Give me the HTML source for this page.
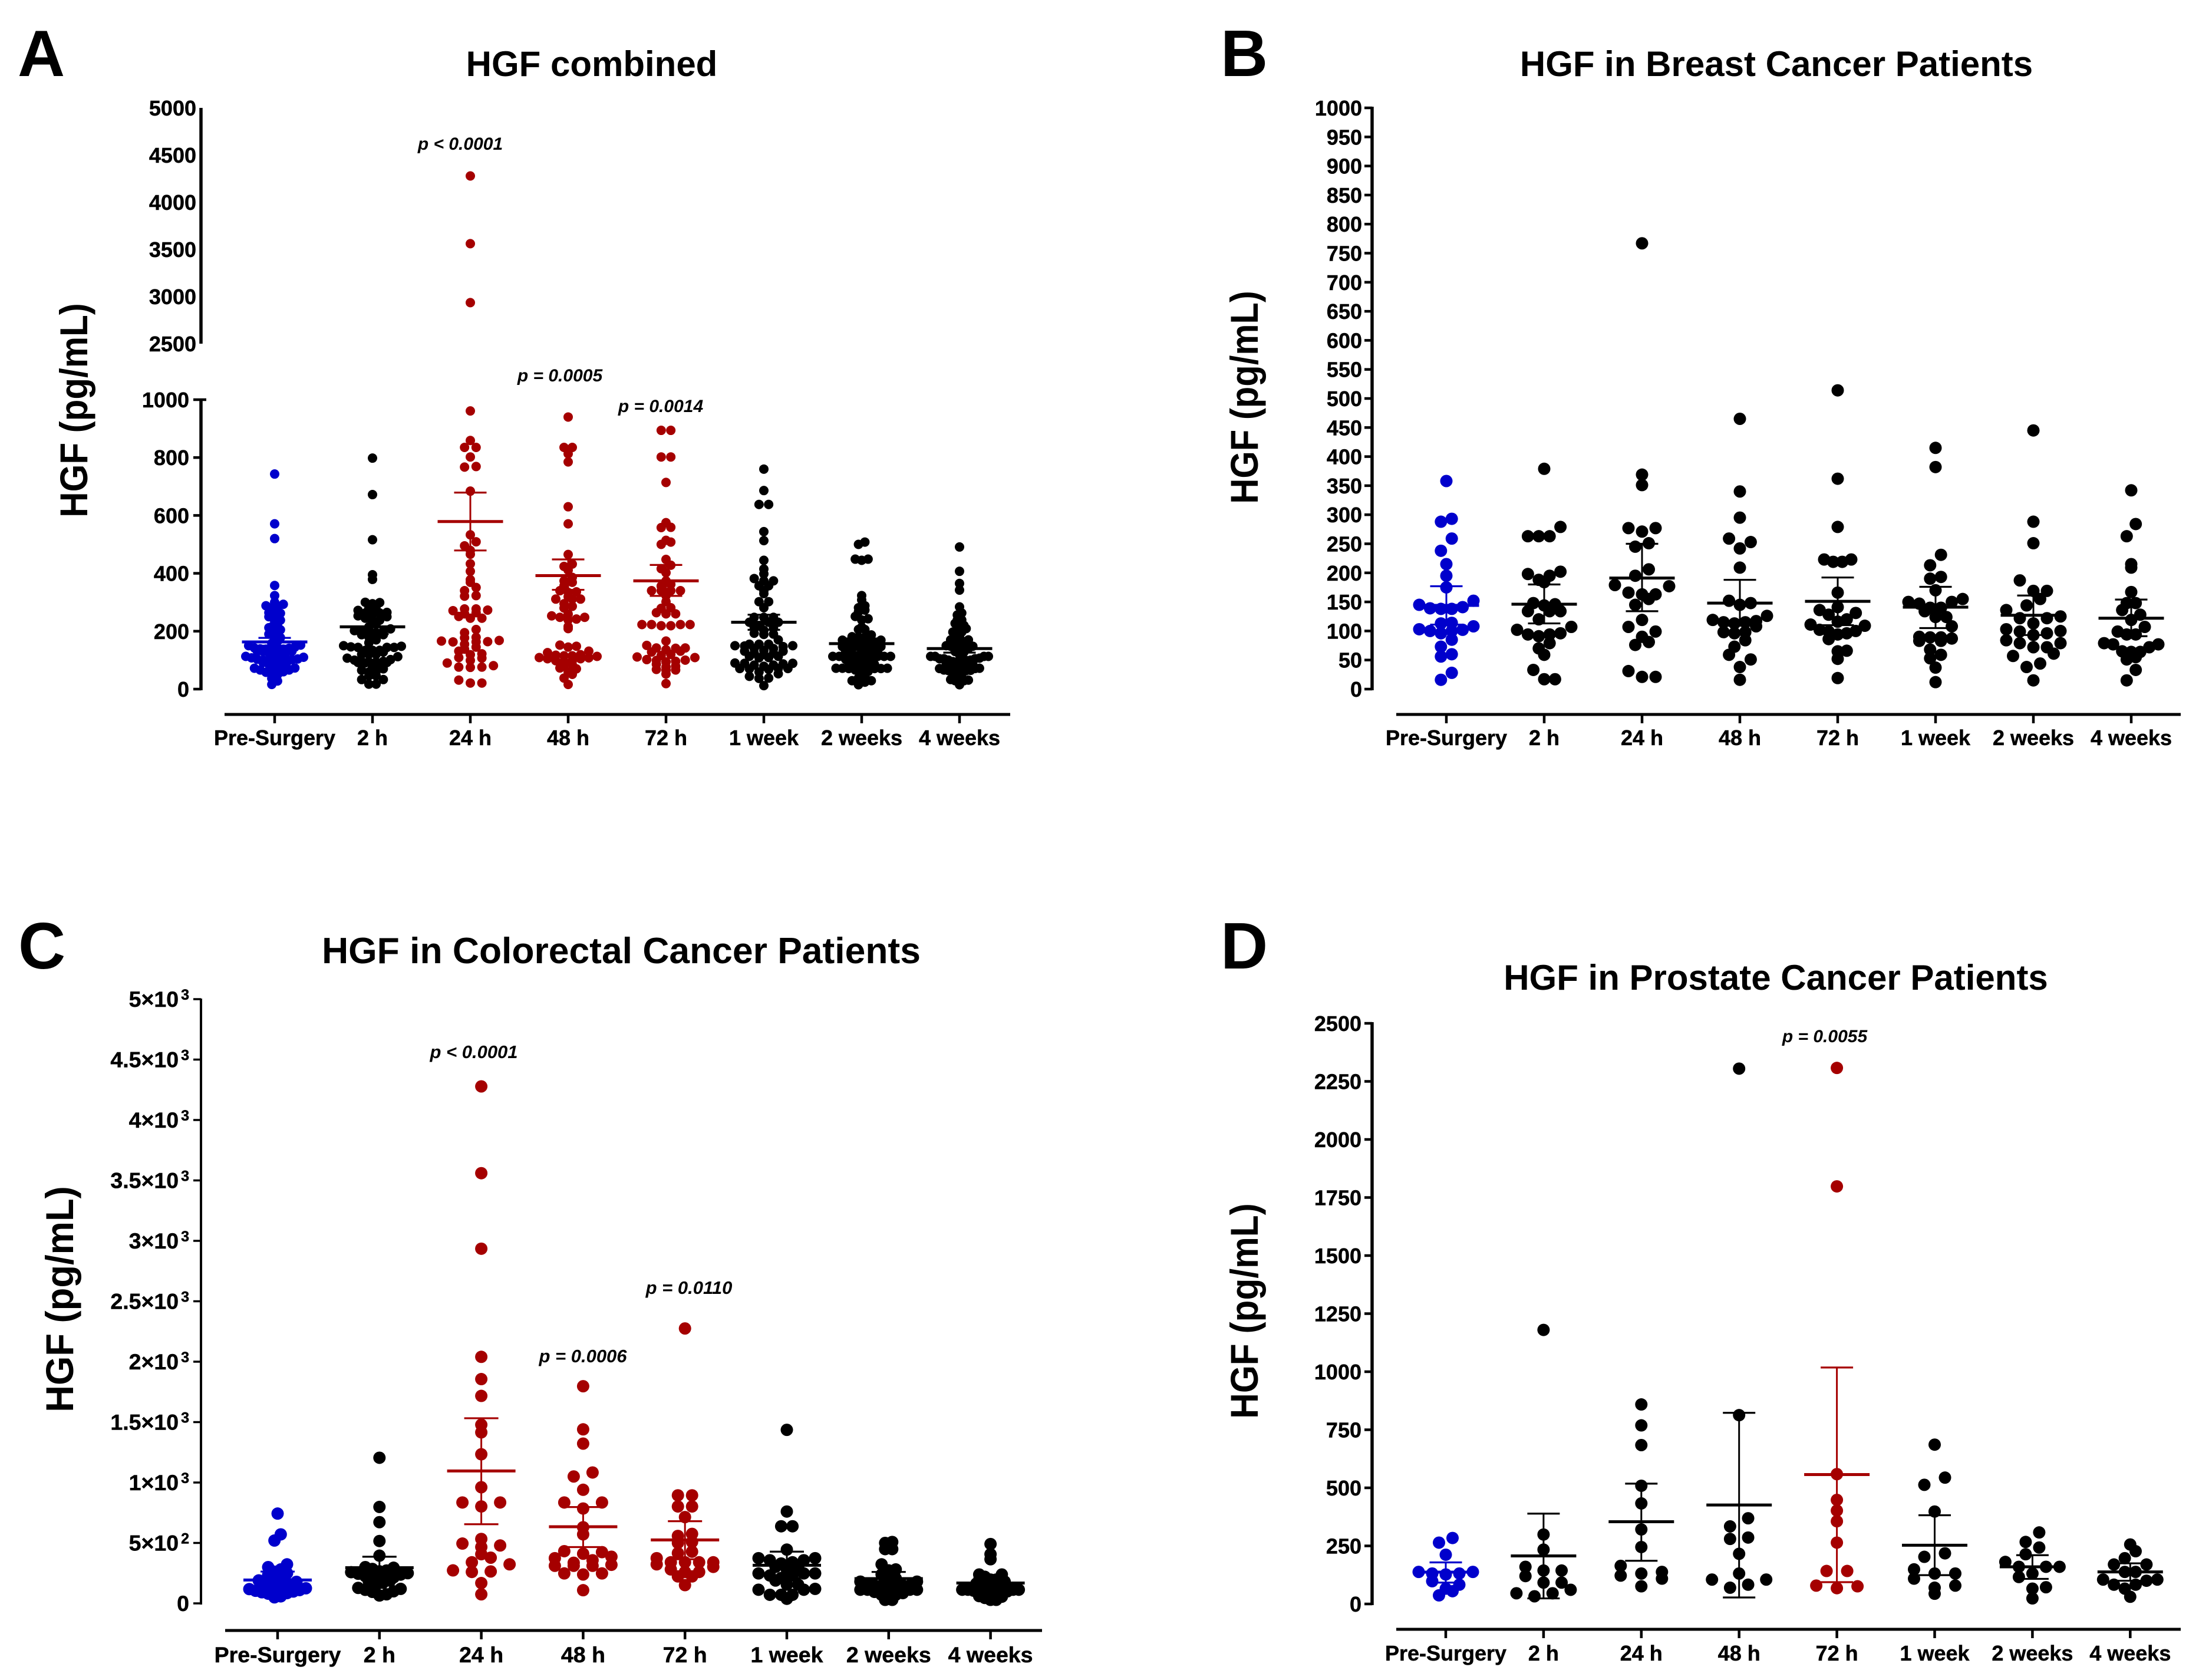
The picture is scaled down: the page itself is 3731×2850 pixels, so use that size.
<!DOCTYPE html>
<html lang="en">
<head>
<meta charset="utf-8">
<title>HGF charts</title>
<style>
html,body{margin:0;padding:0;background:#fff;}
svg{display:block;}
text{font-family:"Liberation Sans",Arial,sans-serif;font-weight:bold;fill:#000;}
.letter{font-size:111px;}
.title{font-size:60px;text-anchor:middle;}
.ytitle{font-size:66px;text-anchor:middle;}
.ptext{font-size:30px;font-style:italic;text-anchor:middle;}
.tick{font-size:36px;stroke:#000;stroke-width:.5px;}
</style>
</head>
<body>
<svg id="figure" xmlns="http://www.w3.org/2000/svg" width="3731" height="2850" viewBox="0 0 3731 2850">
  <rect x="0" y="0" width="3731" height="2850" fill="#fff"/>

  <text class="letter" x="30" y="129">A</text>
  <text class="letter" x="2071" y="129">B</text>
  <text class="letter" x="31" y="1643">C</text>
  <text class="letter" x="2071" y="1643">D</text>

  <text class="title" x="1004" y="129">HGF combined</text>
  <text class="title" x="3014" y="129">HGF in Breast Cancer Patients</text>
  <text class="title" style="font-size:62.4px" x="1054" y="1634">HGF in Colorectal Cancer Patients</text>
  <text class="title" x="3013" y="1679">HGF in Prostate Cancer Patients</text>

  <text class="ytitle" transform="translate(148,696) rotate(-90) scale(.91,1)">HGF (pg/mL)</text>
  <text class="ytitle" transform="translate(2134,674) rotate(-90) scale(.905,1)">HGF (pg/mL)</text>
  <text class="ytitle" transform="translate(124,2204) rotate(-90) scale(.96,1)">HGF (pg/mL)</text>
  <text class="ytitle" transform="translate(2134,2224) rotate(-90) scale(.915,1)">HGF (pg/mL)</text>

  <text class="ptext" x="781" y="254">p &lt; 0.0001</text>
  <text class="ptext" x="950" y="647">p = 0.0005</text>
  <text class="ptext" x="1121" y="699">p = 0.0014</text>
  <text class="ptext" style="font-size:31px" x="804" y="1795">p &lt; 0.0001</text>
  <text class="ptext" style="font-size:31px" x="989" y="2311">p = 0.0006</text>
  <text class="ptext" style="font-size:31px" x="1169" y="2195">p = 0.0110</text>
  <text class="ptext" x="3096" y="1768">p = 0.0055</text>
</svg>

<script>
// ---------- chart data ----------
const categories = ["Pre-Surgery", "2 h", "24 h", "48 h", "72 h", "1 week", "2 weeks", "4 weeks"];

// Panel A: HGF combined (values in the axis gap 1000-2500 are not drawn)
const combinedPre = [358,293,288,259,238,215,195,175,152,145,141,139,138,138,114,113,108,103,102,100,100,96,85,73,60,56,28,16,743,571,520,323,300,281,262,250,235,218,205,190,178,165,158,150,142,130,125,118,110,104,98,92,85,80,72,66,58,50,284,264,212,138,138,131,131,127,98,83,66,55,37];
const combined2h = [379,279,263,263,253,202,198,195,188,184,148,146,144,134,134,134,120,107,102,96,94,94,91,79,70,59,33,17,17,798,672,516,395,300,295,285,272,265,258,250,245,238,225,215,208,200,195,188,180,170,150,128,120,112,100,95,75,65,299,234,160,144,144,120,92,92,61,46,46,33];
const combined24h = [767,369,351,277,277,271,251,245,206,195,179,177,166,163,163,155,145,119,107,99,90,81,76,31,21,21,4278,3560,2935,961,835,835,802,533,495,479,466,407,378,340,323,273,264,260,168,75,859,769,684,509,433,321,245,164,138,131,122,109,76];
const combined48h = [465,340,295,259,253,242,209,152,148,145,126,119,117,115,115,113,108,98,98,96,84,73,59,51,38,16,940,835,835,785,630,571,432,424,411,386,374,357,336,319,311,311,311,248,248,239,109,813,369,334,286,280,216,131,105,105,83,70];
const combined72h = [514,362,279,223,223,219,219,166,141,136,131,128,120,116,111,109,102,100,99,96,94,86,66,65,52,19,894,894,802,802,714,575,558,508,500,428,416,374,340,340,340,340,323,302,281,260,260,223,223,151,559,448,402,356,264,142,142,79,76,68];
const combined1w = [415,382,231,213,193,190,170,155,150,150,147,140,140,134,124,124,108,90,87,89,89,83,83,68,59,53,37,12,760,638,638,445,374,374,357,357,340,330,302,302,281,248,248,248,231,231,210,189,155,155,120,113,113,71,71,71,38,686,544,513,398,218,203,149,131,131,109,79,70,44];
const combined2w = [445,288,251,187,169,169,155,144,136,125,122,122,113,103,96,99,100,93,84,79,79,72,72,61,57,44,38,15,508,500,449,449,323,281,273,239,206,206,180,180,160,147,147,147,147,147,130,113,113,113,113,95,85,71,71,71,29,29,308,267,243,214,181,160,160,160,131,116,72,66,24];
const combined4w = [342,284,263,215,209,167,148,148,136,128,119,107,99,94,94,79,77,77,72,65,64,64,55,51,33,15,491,407,365,239,239,220,197,197,180,164,164,150,140,130,113,113,113,113,105,100,95,90,85,71,71,60,55,45,29,29,256,227,197,170,170,138,138,105,105,100,83,83,66,31];
const combinedMean = [163,215,579,392,374,231,157,140];
const combinedHigh = [177,243,679,448,429,257,175,154];
const combinedLow = [150,190,479,343,322,205,140,126];

// Panel B: breast cancer
const breastPre = [358,293,288,259,238,215,195,175,152,145,141,139,138,138,114,113,108,103,102,100,100,96,85,73,60,56,28,16];
const breast2h = [379,279,263,263,263,202,198,195,188,184,148,146,144,134,134,134,120,107,102,96,94,94,91,79,70,59,33,17,17];
const breast24h = [767,369,351,277,277,271,251,245,206,195,179,177,166,163,163,155,145,119,107,99,90,81,76,31,21,21];
const breast48h = [465,340,295,259,253,242,209,152,148,145,126,119,117,115,115,113,108,98,98,96,84,73,59,51,38,16];
const breast72h = [514,362,279,223,223,219,219,166,141,136,131,128,120,116,111,109,102,100,99,96,94,86,66,65,52,19];
const breast1w = [415,382,231,213,193,190,170,155,150,150,147,140,140,134,124,124,108,90,87,89,89,83,83,68,59,53,37,12];
const breast2w = [445,288,251,187,169,169,155,144,136,125,122,122,113,103,96,99,100,93,84,79,79,72,72,61,57,44,38,15];
const breast4w = [342,284,263,215,209,167,148,148,136,128,119,107,99,94,94,79,77,77,72,65,64,64,55,51,33,15];
const breastMean = [144,146,191,148,151,141,127,122];
const breastHigh = [177,180,250,188,192,176,161,154];
const breastLow = [111,113,134,109,110,105,93,91];

// Panel C: colorectal cancer
const colorectalPre = [743,571,520,323,300,281,262,250,235,218,205,190,178,165,158,150,142,130,125,118,110,104,98,92,85,80,72,66,58,50];
const colorectal2h = [1205,798,672,516,395,300,295,285,272,265,258,250,245,238,225,215,208,200,195,188,180,170,150,128,120,112,100,95,75,65];
const colorectal24h = [4278,3560,2935,2040,1856,1717,1478,1415,1234,961,835,835,802,533,495,479,466,407,378,340,323,273,264,260,168,75];
const colorectal48h = [1797,1440,1322,1083,1050,940,835,835,785,630,571,432,424,411,386,374,357,336,319,311,311,311,248,248,239,109];
const colorectal72h = [2275,894,894,802,802,714,575,558,508,500,428,416,374,340,340,340,340,323,302,281,260,260,223,223,151];
const colorectal1w = [1436,760,638,638,445,374,374,357,357,340,330,302,302,281,248,248,248,231,231,210,189,155,155,120,113,113,71,71,71,38];
const colorectal2w = [508,500,449,449,323,281,273,239,206,206,180,180,160,147,147,147,147,147,130,113,113,113,113,95,85,71,71,71,29,29];
const colorectal4w = [491,407,365,239,239,220,197,197,180,164,164,150,140,130,113,113,113,113,105,100,95,90,85,71,71,60,55,45,29,29];
const colorectalMean = [193,295,1096,634,525,315,205,168];
const colorectalHigh = [263,386,1532,797,680,428,260,210];
const colorectalLow = [120,205,655,466,365,210,150,125];

// Panel D: prostate cancer
const prostatePre = [284,264,212,138,138,131,131,127,98,83,66,55,37];
const prostate2h = [1180,299,234,160,144,144,120,92,92,61,46,46,33];
const prostate24h = [859,769,684,509,433,321,245,164,138,131,122,109,76];
const prostate48h = [2305,813,369,334,286,280,216,131,105,105,83,70];
const prostate72h = [2308,1798,559,448,402,356,264,142,142,79,76,68];
const prostate1w = [686,544,513,398,218,203,149,131,131,109,79,70,44];
const prostate2w = [308,267,243,214,181,160,160,160,131,116,72,66,24];
const prostate4w = [256,227,197,170,170,138,138,105,105,100,83,83,66,31];
const prostateMean = [137,207,354,426,557,253,160,138];
const prostateHigh = [179,389,518,823,1018,382,210,175];
const prostateLow = [92,24,186,28,94,124,108,100];

// Tick values
const ticksALower = [0,200,400,600,800,1000];
const ticksAUpper = [2500,3000,3500,4000,4500,5000];
const ticksB = [0,50,100,150,200,250,300,350,400,450,500,550,600,650,700,750,800,850,900,950,1000];
const ticksC = [0,500,1000,1500,2000,2500,3000,3500,4000,4500,5000];
const ticksD = [0,250,500,750,1000,1250,1500,1750,2000,2250,2500];

// ---------- drawing ----------
const BLUE = "#0000cc", RED = "#a50000", BLACK = "#000000";
const svg = document.getElementById("figure");
const NS = "http://www.w3.org/2000/svg";

function shape(tag, attrs) {
  const el = document.createElementNS(NS, tag);
  for (const k in attrs) el.setAttribute(k, attrs[k]);
  svg.appendChild(el);
  return el;
}
function line(x1, y1, x2, y2, color, w) {
  return shape("line", { x1: x1, y1: y1, x2: x2, y2: y2, stroke: color, "stroke-width": w });
}

// Prism style binned swarm: each row is centred, row slots share a group wide step
function swarmOffsets(values, binSize, binShift, spread, maxStep) {
  const rows = {};
  values.forEach(function (v, i) {
    const k = Math.floor((v + binShift) / binSize);
    (rows[k] = rows[k] || []).push(i);
  });
  let widest = 1;
  for (const k in rows) widest = Math.max(widest, rows[k].length);
  const step = widest > 1 ? Math.min(spread / (widest - 1), maxStep) : 0;
  const out = new Array(values.length).fill(0);
  for (const k in rows) {
    const idx = rows[k].sort(function (a, b) { return values[a] - values[b]; });
    const n = idx.length;
    idx.forEach(function (id, j) {
      let slot;
      if (n % 2) slot = j === 0 ? 0 : (j % 2 ? 1 : -1) * Math.ceil(j / 2);
      else slot = (j % 2 ? 1 : -1) * (Math.floor(j / 2) + 0.5);
      out[id] = slot * step;
    });
  }
  return out;
}

function drawPanel(p) {
  // axes
  p.yAxisSegments.forEach(function (seg, i) {
    const a = line(p.axisX, seg[0], p.axisX, seg[1], BLACK, p.axisWidth);
    
    
  });
  const xa = line(p.xAxisStart, p.xAxisY, p.xAxisEnd, p.xAxisY, BLACK, 5);
  
  

  // y ticks and labels
  p.ticks.forEach(function (t) {
    const y = p.y(t.value);
    if (t.mark) {
      const m = line(p.axisX - 13, y, p.axisX + (t.over ? 9 : 0), y, BLACK, p.tickWidth);
      
      
    }
    const lab = shape("text", { class: "tick", x: p.axisX + t.labelOffset, y: y + 13, "text-anchor": "end" });
    
    
    if (p.labelSize) lab.style.fontSize = p.labelSize + "px";
    if (p.sci && t.value > 0) {
      const exp = t.value >= 1000 ? 3 : 2;
      lab.textContent = (t.value / Math.pow(10, exp)) + "×10";
      const sup = document.createElementNS(NS, "tspan");
      sup.setAttribute("dx", "4");
      sup.setAttribute("dy", "-12");
      sup.setAttribute("font-size", "25");
      sup.textContent = String(exp);
      lab.appendChild(sup);
    } else {
      lab.textContent = String(t.value);
    }
  });

  // categories
  categories.forEach(function (name, i) {
    const cx = p.xStart + i * p.xStep;
    const slug = name.toLowerCase().replace(/[^a-z0-9]+/g, '-');
    const tk = line(cx, p.xAxisY, cx, p.xAxisY + 15, BLACK, 4.5);
    
    
    const lab = shape("text", { class: "tick", x: cx, y: p.xLabelY, "text-anchor": "middle" });
    
    
    if (p.labelSize) lab.style.fontSize = p.labelSize + "px";
    lab.textContent = name;

    const color = i === 0 ? BLUE : (p.red.indexOf(i) >= 0 ? RED : BLACK);
    const values = p.series[i];
    const off = swarmOffsets(values, p.bin, p.binShift, p.spread, p.maxStep);
    values.forEach(function (v, j) {
      const dot = shape("circle", { cx: cx + off[j], cy: p.y(v), r: p.r, fill: color });
      
      
    });

    const yHi = p.y(p.high[i]), yLo = p.y(p.low[i]), yM = p.y(p.mean[i]);
    const stem = line(cx, yHi, cx, yLo, color, 3);
    
    
    const capH = line(cx - p.capHalf, yHi, cx + p.capHalf, yHi, color, 3.2);
    
    
    const capL = line(cx - p.capHalf, yLo, cx + p.capHalf, yLo, color, 3.2);
    
    
    const mean = line(cx - p.meanHalf, yM, cx + p.meanHalf, yM, color, 5);
    
    
  });
}

function makeTicks(values, mark, labelOffset, overValue) {
  return values.map(function (v) {
    return { value: v, mark: mark, labelOffset: labelOffset, over: v === overValue };
  });
}

drawPanel({
  id: "a", axisX: 341, axisWidth: 5.5, tickWidth: 4.5, xAxisStart: 381, xAxisEnd: 1714, xAxisY: 1212,
  xStart: 466, xStep: 166, xLabelY: 1264, r: 8, bin: 20, binShift: 6, spread: 98, maxStep: 24,
  capHalf: 27.5, meanHalf: 55.5, red: [2, 3, 4],
  yAxisSegments: [[183, 583], [676, 1171]],
  y: function (v) { return v <= 1000 ? 1169 - v * 0.491 : 583 - (v - 2500) * 0.16; },
  ticks: makeTicks(ticksALower, true, -20, 1000).concat(makeTicks(ticksAUpper, false, -8, -1)),
  series: [combinedPre, combined2h, combined24h, combined48h, combined72h, combined1w, combined2w, combined4w],
  mean: combinedMean, high: combinedHigh, low: combinedLow
});

drawPanel({
  id: "b", axisX: 2328, axisWidth: 5.5, tickWidth: 4.5, xAxisStart: 2369, xAxisEnd: 3700, xAxisY: 1212,
  xStart: 2454, xStep: 166, xLabelY: 1264, r: 10.5, bin: 25, binShift: 12.5, spread: 92, maxStep: 35,
  capHalf: 27.5, meanHalf: 55.5, red: [],
  yAxisSegments: [[181, 1171]],
  y: function (v) { return 1169 - v * 0.986; },
  ticks: makeTicks(ticksB, true, -17, -1),
  series: [breastPre, breast2h, breast24h, breast48h, breast72h, breast1w, breast2w, breast4w],
  mean: breastMean, high: breastHigh, low: breastLow
});

drawPanel({
  id: "c", axisX: 341, axisWidth: 4, tickWidth: 3.5, xAxisStart: 382, xAxisEnd: 1768, xAxisY: 2766,
  xStart: 471, xStep: 172.8, xLabelY: 2820, r: 10.5, bin: 65, binShift: 0, spread: 96, maxStep: 35, labelSize: 37.5,
  capHalf: 29, meanHalf: 58, red: [2, 3, 4], sci: true,
  yAxisSegments: [[1694, 2722]],
  y: function (v) { return 2720 - v * 0.205; },
  ticks: makeTicks(ticksC, true, -20, -1),
  series: [colorectalPre, colorectal2h, colorectal24h, colorectal48h, colorectal72h, colorectal1w, colorectal2w, colorectal4w],
  mean: colorectalMean, high: colorectalHigh, low: colorectalLow
});

drawPanel({
  id: "d", axisX: 2328, axisWidth: 5.5, tickWidth: 4.5, xAxisStart: 2369, xAxisEnd: 3700, xAxisY: 2764,
  xStart: 2453, xStep: 165.9, xLabelY: 2817, r: 10.5, bin: 62.5, binShift: 0, spread: 92, maxStep: 35,
  capHalf: 27.5, meanHalf: 55.5, red: [4],
  yAxisSegments: [[1734, 2723]],
  y: function (v) { return 2721 - v * 0.394; },
  ticks: makeTicks(ticksD, true, -18, -1),
  series: [prostatePre, prostate2h, prostate24h, prostate48h, prostate72h, prostate1w, prostate2w, prostate4w],
  mean: prostateMean, high: prostateHigh, low: prostateLow
});
</script>
</body>
</html>
